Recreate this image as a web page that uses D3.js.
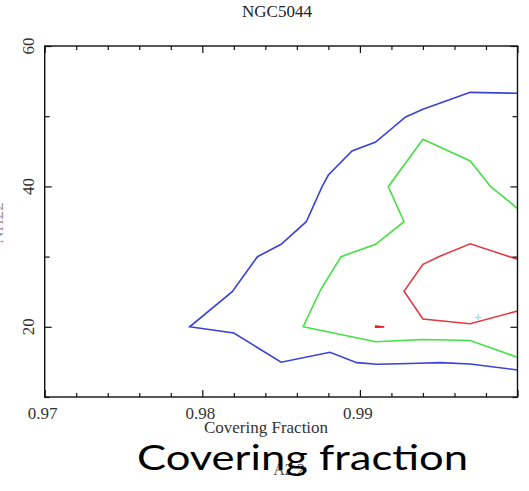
<!DOCTYPE html>
<html>
<head>
<meta charset="utf-8">
<script src="https://cdn.jsdelivr.net/npm/d3@7"></script>
<style>
  html, body { margin: 0; padding: 0; background: #fff; }
  svg { display: block; }
</style>
</head>
<body>
<script>
// Confidence contours: covering fraction vs. column density, NGC5044
const xTicksMajor = [0.97, 0.98, 0.99, 1.0];
const xTickLabels = ["0.97", "0.98", "0.99", ""];
const yTicksMajor = [20, 40, 60];
const yTickLabels = ["20", "40", "60"];

// outer (blue) contour
const blueContour = [
  [1.0000, 53.26], [0.9970, 53.40], [0.9940, 50.98], [0.9929, 49.89],
  [0.9910, 46.32], [0.9895, 45.04], [0.9880, 41.62], [0.9876, 39.96],
  [0.9866, 34.97], [0.9850, 31.75], [0.9835, 29.99], [0.9819, 25.00],
  [0.9792, 20.00], [0.9820, 19.12], [0.9850, 14.96], [0.9881, 16.38],
  [0.9898, 14.89], [0.9911, 14.66], [0.9938, 14.80], [0.9951, 14.89],
  [0.9970, 14.70], [1.0000, 13.85]
];
// middle (green) contour
const greenContour = [
  [1.0000, 36.88], [0.9983, 39.96], [0.9970, 43.62], [0.9940, 46.71],
  [0.9918, 39.96], [0.9928, 34.97], [0.9910, 31.75], [0.9888, 29.99],
  [0.9875, 25.24], [0.9864, 20.01], [0.9910, 17.88], [0.9940, 18.20],
  [0.9970, 18.05], [1.0000, 15.66]
];
// inner (red) contour
const redContour = [
  [1.0000, 29.62], [0.9970, 31.82], [0.9950, 29.99], [0.9940, 28.90],
  [0.9928, 25.06], [0.9940, 21.11], [0.9970, 20.43], [1.0000, 22.25]
];
// small isolated red island
const redIsland = [
  [0.99100, 20.10], [0.99155, 19.98], [0.99100, 19.93]
];
// best-fit position
const bestFit = [0.9975, 21.35];

const W = 529, H = 491;
const plot = { left: 44.7, right: 517.5, top: 46, bottom: 397 };

const svg = d3.select("body").append("svg")
  .attr("width", W).attr("height", H);

const x = d3.scaleLinear().domain([0.97, 1.0]).range([plot.left, plot.right]);
const y = d3.scaleLinear().domain([10, 60]).range([plot.bottom, plot.top]);

const serif = "'Liberation Serif', 'Times New Roman', serif";

// contour lines
const line = d3.line().x(d => x(d[0])).y(d => y(d[1]));
const g = svg.append("g");
g.append("path").datum(blueContour).attr("d", line)
  .attr("fill", "none").attr("stroke", "#3a42d6").attr("stroke-width", 1.6);
g.append("path").datum(greenContour).attr("d", line)
  .attr("fill", "none").attr("stroke", "#44e044").attr("stroke-width", 1.6);
g.append("path").datum(redContour).attr("d", line)
  .attr("fill", "none").attr("stroke", "#e23a44").attr("stroke-width", 1.6);
g.append("path").datum(redIsland).attr("d", d3.line().x(d => x(d[0])).y(d => y(d[1])).curve(d3.curveLinearClosed))
  .attr("fill", "#e0202a").attr("stroke", "#e0202a").attr("stroke-width", 1.6);

// best-fit marker
const bx = x(bestFit[0]), by = y(bestFit[1]);
g.append("path")
  .attr("d", `M${bx - 3},${by}H${bx + 3}M${bx},${by - 3}V${by + 3}`)
  .attr("stroke", "#6fdcf0").attr("stroke-width", 1);

// axes with inward ticks on all four sides
const xMinor = d3.range(0.97, 1.0001, 0.002).filter(v => !xTicksMajor.some(m => Math.abs(m - v) < 1e-6));
const yMinor = [10, 30, 50];

function ticks(axisGen, sel) {
  sel.call(axisGen);
  sel.select(".domain").remove();
  sel.selectAll("line").attr("stroke", "#111").attr("stroke-width", 1.2);
}
// bottom
ticks(d3.axisBottom(x).tickValues(xTicksMajor).tickSize(-7).tickFormat(""),
  svg.append("g").attr("transform", `translate(0,${plot.bottom})`));
ticks(d3.axisBottom(x).tickValues(xMinor).tickSize(-4).tickFormat(""),
  svg.append("g").attr("transform", `translate(0,${plot.bottom})`));
// top
ticks(d3.axisTop(x).tickValues(xTicksMajor).tickSize(-7).tickFormat(""),
  svg.append("g").attr("transform", `translate(0,${plot.top})`));
ticks(d3.axisTop(x).tickValues(xMinor).tickSize(-4).tickFormat(""),
  svg.append("g").attr("transform", `translate(0,${plot.top})`));
// left
ticks(d3.axisLeft(y).tickValues(yTicksMajor).tickSize(-7).tickFormat(""),
  svg.append("g").attr("transform", `translate(${plot.left},0)`));
ticks(d3.axisLeft(y).tickValues(yMinor).tickSize(-5).tickFormat(""),
  svg.append("g").attr("transform", `translate(${plot.left},0)`));
// right
ticks(d3.axisRight(y).tickValues(yTicksMajor).tickSize(-7).tickFormat(""),
  svg.append("g").attr("transform", `translate(${plot.right},0)`));
ticks(d3.axisRight(y).tickValues(yMinor).tickSize(-5).tickFormat(""),
  svg.append("g").attr("transform", `translate(${plot.right},0)`));

// frame
svg.append("rect")
  .attr("x", plot.left).attr("y", plot.top)
  .attr("width", plot.right - plot.left).attr("height", plot.bottom - plot.top)
  .attr("fill", "none").attr("stroke", "#111").attr("stroke-width", 1.4);

// tick labels
svg.append("g").selectAll("text").data(xTicksMajor).join("text")
  .attr("x", d => x(d) - 2).attr("y", 419)
  .attr("text-anchor", "middle")
  .attr("font-family", serif).attr("font-size", 17).attr("fill", "#333")
  .text((d, i) => xTickLabels[i]);

svg.append("g").selectAll("text").data(yTicksMajor).join("text")
  .attr("transform", d => `translate(34,${y(d)}) rotate(-90)`)
  .attr("text-anchor", "middle")
  .attr("font-family", serif).attr("font-size", 17).attr("fill", "#333")
  .text((d, i) => yTickLabels[i]);

// title and axis titles
svg.append("text").attr("x", 277).attr("y", 17)
  .attr("text-anchor", "middle")
  .attr("font-family", serif).attr("font-size", 17).attr("fill", "#222")
  .text("NGC5044");

svg.append("text").attr("x", 266).attr("y", 433)
  .attr("text-anchor", "middle")
  .attr("font-family", serif).attr("font-size", 17).attr("fill", "#333")
  .text("Covering Fraction");

svg.append("text")
  .attr("transform", "translate(3,223) rotate(-90)")
  .attr("text-anchor", "middle")
  .attr("font-family", serif).attr("font-size", 17).attr("fill", "#999")
  .text("NH22");

svg.append("text").attr("x", 289).attr("y", 475)
  .attr("text-anchor", "middle")
  .attr("font-family", serif).attr("font-size", 16).attr("fill", "#555")
  .text("A2.2");

svg.append("text").attr("x", 137).attr("y", 470)
  .attr("font-family", "Lato, 'Open Sans', sans-serif").attr("font-size", 35)
  .attr("fill", "#000")
  .attr("textLength", 331).attr("lengthAdjust", "spacingAndGlyphs")
  .text("Covering fraction");
</script>
</body>
</html>
